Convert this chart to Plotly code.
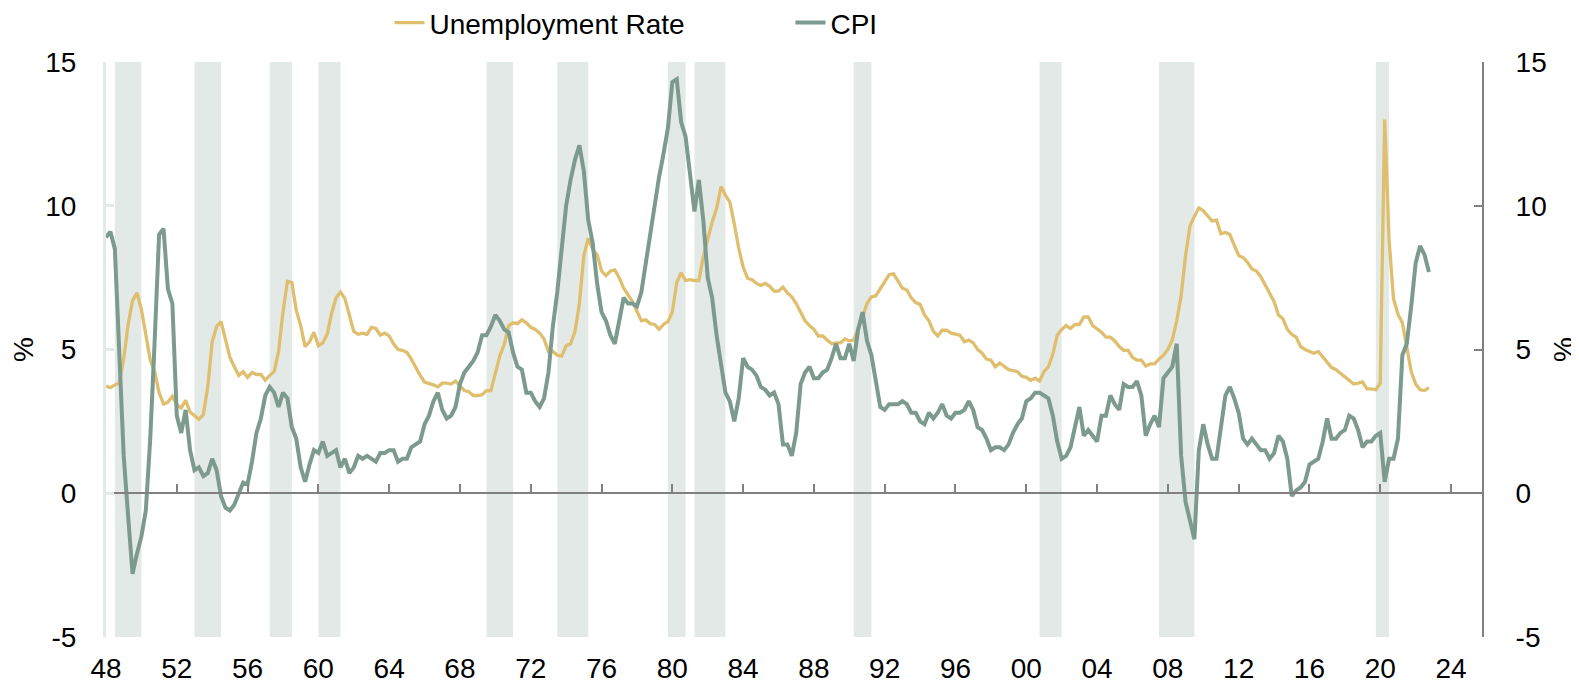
import plotly.graph_objects as go

start_year = 1948
unemployment = [
    3.73, 3.67, 3.77, 3.83, 4.67, 5.87, 6.70, 6.97, 6.40, 5.57, 4.63, 4.23,
    3.50, 3.10, 3.17, 3.37, 3.07, 2.97, 3.23, 2.83, 2.70, 2.57, 2.73, 3.70,
    5.27, 5.80, 5.97, 5.33, 4.73, 4.40, 4.10, 4.23, 4.03, 4.20, 4.13, 4.13,
    3.93, 4.10, 4.23, 4.93, 6.30, 7.37, 7.33, 6.37, 5.83, 5.10, 5.27, 5.60,
    5.13, 5.23, 5.53, 6.27, 6.80, 7.00, 6.77, 6.20, 5.63, 5.53, 5.57, 5.53,
    5.77, 5.73, 5.50, 5.57, 5.47, 5.20, 5.00, 4.97, 4.90, 4.67, 4.37, 4.10,
    3.87, 3.83, 3.77, 3.70, 3.83, 3.83, 3.80, 3.90, 3.73, 3.57, 3.53, 3.40,
    3.40, 3.43, 3.57, 3.57, 4.17, 4.77, 5.17, 5.83, 5.93, 5.90, 6.03, 5.93,
    5.77, 5.70, 5.57, 5.37, 4.93, 4.93, 4.80, 4.77, 5.13, 5.20, 5.63, 6.60,
    8.27, 8.87, 8.47, 8.30, 7.73, 7.57, 7.73, 7.77, 7.50, 7.13, 6.90, 6.67,
    6.33, 6.00, 6.03, 5.90, 5.87, 5.70, 5.87, 5.97, 6.30, 7.33, 7.67, 7.40,
    7.43, 7.40, 7.40, 8.23, 8.83, 9.43, 9.90, 10.67, 10.37, 10.13, 9.37, 8.53,
    7.87, 7.48, 7.43, 7.30, 7.23, 7.30, 7.20, 7.03, 7.03, 7.17, 6.97, 6.83,
    6.60, 6.27, 6.00, 5.83, 5.70, 5.47, 5.47, 5.33, 5.20, 5.23, 5.23, 5.37,
    5.30, 5.33, 5.70, 6.13, 6.60, 6.83, 6.87, 7.10, 7.37, 7.60, 7.63, 7.37,
    7.13, 7.07, 6.80, 6.63, 6.57, 6.20, 6.00, 5.63, 5.47, 5.67, 5.67, 5.57,
    5.53, 5.50, 5.27, 5.33, 5.23, 5.00, 4.87, 4.67, 4.63, 4.40, 4.53, 4.43,
    4.30, 4.27, 4.23, 4.07, 4.03, 3.93, 4.00, 3.90, 4.23, 4.40, 4.83, 5.50,
    5.70, 5.83, 5.73, 5.87, 5.87, 6.13, 6.13, 5.83, 5.70, 5.60, 5.43, 5.43,
    5.30, 5.10, 4.97, 4.97, 4.73, 4.63, 4.63, 4.43, 4.50, 4.50, 4.67, 4.80,
    5.00, 5.33, 6.00, 6.87, 8.27, 9.30, 9.63, 9.93, 9.83, 9.63, 9.47, 9.50,
    9.03, 9.07, 9.00, 8.63, 8.27, 8.20, 8.03, 7.80, 7.73, 7.53, 7.23, 6.93,
    6.67, 6.20, 6.07, 5.70, 5.53, 5.43, 5.10, 5.00, 4.93, 4.87, 4.93, 4.73,
    4.57, 4.37, 4.30, 4.17, 4.03, 3.93, 3.80, 3.83, 3.87, 3.63, 3.63, 3.60,
    3.83, 13.00, 8.80, 6.77, 6.23, 5.93, 5.10, 4.23, 3.80, 3.60, 3.57, 3.67,
]
cpi = [
    8.9, 9.1, 8.5, 4.7, 1.3, -0.8, -2.8, -2.1, -1.5, -0.6, 1.9, 5.3,
    9.0, 9.2, 7.1, 6.6, 2.7, 2.1, 2.9, 1.5, 0.8, 0.9, 0.6, 0.7,
    1.2, 0.8, -0.1, -0.5, -0.6, -0.4, 0.0, 0.37, 0.31, 1.1, 2.1, 2.6,
    3.4, 3.7, 3.5, 3.0, 3.5, 3.3, 2.3, 1.9, 0.9, 0.4, 1.0, 1.5,
    1.4, 1.8, 1.3, 1.4, 1.5, 0.9, 1.2, 0.7, 0.9, 1.3, 1.2, 1.3,
    1.2, 1.1, 1.4, 1.4, 1.5, 1.5, 1.1, 1.2, 1.2, 1.6, 1.7, 1.8,
    2.4, 2.7, 3.2, 3.5, 2.9, 2.6, 2.7, 3.0, 3.8, 4.2, 4.4, 4.6,
    4.9, 5.5, 5.5, 5.8, 6.2, 6.0, 5.7, 5.6, 4.9, 4.4, 4.3, 3.5,
    3.5, 3.2, 3.0, 3.3, 4.2, 5.8, 7.0, 8.6, 10.0, 10.9, 11.6, 12.1,
    11.2, 9.5, 8.7, 7.3, 6.3, 6.0, 5.5, 5.2, 6.0, 6.8, 6.6, 6.6,
    6.5, 7.0, 8.0, 9.0, 10.1, 11.0, 11.8, 12.7, 14.3, 14.4, 12.9, 12.4,
    11.1, 9.8, 10.9, 9.5, 7.5, 6.8, 5.5, 4.4, 3.5, 3.2, 2.5, 3.3,
    4.7, 4.4, 4.3, 4.1, 3.7, 3.6, 3.4, 3.5, 3.1, 1.7, 1.7, 1.3,
    2.1, 3.8, 4.2, 4.4, 4.0, 4.0, 4.2, 4.3, 4.7, 5.2, 4.7, 4.7,
    5.2, 4.6, 5.7, 6.3, 5.3, 4.8, 3.9, 3.0, 2.9, 3.1, 3.1, 3.1,
    3.2, 3.1, 2.8, 2.8, 2.5, 2.4, 2.8, 2.6, 2.8, 3.1, 2.7, 2.6,
    2.8, 2.8, 2.9, 3.2, 2.9, 2.3, 2.2, 1.9, 1.5, 1.6, 1.6, 1.5,
    1.7, 2.1, 2.4, 2.6, 3.2, 3.3, 3.5, 3.5, 3.4, 3.3, 2.7, 1.8,
    1.2, 1.3, 1.6, 2.3, 3.0, 2.0, 2.2, 2.0, 1.8, 2.7, 2.7, 3.4,
    3.1, 2.9, 3.8, 3.7, 3.7, 3.9, 3.4, 2.0, 2.4, 2.7, 2.3, 4.0,
    4.2, 4.4, 5.2, 1.3, -0.3, -1.0, -1.6, 1.5, 2.4, 1.7, 1.2, 1.2,
    2.3, 3.4, 3.7, 3.3, 2.8, 1.9, 1.7, 1.9, 1.7, 1.5, 1.5, 1.2,
    1.4, 2.0, 1.8, 1.2, -0.1, 0.1, 0.2, 0.4, 1.0, 1.1, 1.2, 1.8,
    2.6, 1.9, 1.9, 2.1, 2.2, 2.7, 2.6, 2.2, 1.6, 1.8, 1.8, 2.0,
    2.1, 0.4, 1.2, 1.2, 1.9, 4.8, 5.2, 6.5, 8.0, 8.6, 8.3, 7.7,
]
recession_start = [1948.5, 1953.0, 1957.25, 1960.0, 1969.5, 1973.5, 1979.75, 1981.25, 1990.25, 2000.75, 2007.5, 2019.75]
recession_end = [1950.0, 1954.5, 1958.5, 1961.25, 1971.0, 1975.25, 1980.75, 1983.0, 1991.25, 2002.0, 2009.5, 2020.5]
tick_years = list(range(1948, 2025, 4))
tick_labels = [str(y)[-2:] for y in tick_years]
y_ticks = [-5, 0, 5, 10, 15]
y_labels = ["-5", "0", "5", "10", "15"]

dates = [start_year + i / 4 for i in range(len(unemployment))]

C_UNEMP = "#DFBE6E"
C_CPI = "#7C9A8D"
C_SHADE = "#E3E9E6"
C_AXIS = "#808080"
FONT = "Arial, Liberation Sans, sans-serif"
FS = 28

fig = go.Figure()
fig.add_trace(go.Scatter(x=dates, y=unemployment, name="Unemployment Rate", mode="lines",
                         line=dict(color=C_UNEMP, width=3.3)))
fig.add_trace(go.Scatter(x=dates, y=cpi, name="CPI", mode="lines",
                         line=dict(color=C_CPI, width=4), yaxis="y2"))
# empty trace to register the zero-line axis
fig.add_trace(go.Scatter(x=[], y=[], xaxis="x2", yaxis="y", showlegend=False, hoverinfo="skip"))

for s, e in zip(recession_start, recession_end):
    fig.add_shape(type="rect", xref="x", yref="y", x0=s, x1=e, y0=-5, y1=15,
                  fillcolor=C_SHADE, line=dict(width=0), layer="below")

xr = [1948, 2025.75]
fig.update_layout(
    width=1571, height=677,
    margin=dict(l=98, r=97, t=54, b=48, autoexpand=False),
    paper_bgcolor="white", plot_bgcolor="white",
    font=dict(family=FONT, size=FS, color="#000000"),
    showlegend=True,
    legend=dict(orientation="h", x=0.206, xanchor="left", y=1.068, yanchor="middle",
                font=dict(size=FS), entrywidth=356, entrywidthmode="pixels",
                bgcolor="rgba(0,0,0,0)"),
    xaxis=dict(range=xr, tickvals=tick_years, ticktext=tick_labels, showline=False,
               ticks="", showgrid=False, zeroline=False, ticklabelstandoff=12,
               tickfont=dict(size=FS)),
    xaxis2=dict(range=xr, overlaying="x", anchor="free", position=0.25, showline=True,
                linecolor=C_AXIS, linewidth=2, ticks="inside", ticklen=8, tickwidth=2,
                tickcolor=C_AXIS, tickvals=tick_years, showticklabels=False,
                showgrid=False, zeroline=False),
    yaxis=dict(range=[-5, 15], tickvals=y_ticks, ticktext=y_labels, showline=True, linecolor=C_SHADE,
               linewidth=3, ticks="inside", ticklen=8, tickwidth=3, tickcolor=C_SHADE,
               showgrid=False, zeroline=False, ticklabelstandoff=21,
               title=dict(text="%", standoff=8, font=dict(size=FS))),
    yaxis2=dict(range=[-5, 15], tickvals=y_ticks, ticktext=y_labels, overlaying="y", side="right",
                showline=True, linecolor=C_AXIS, linewidth=2, ticks="inside", ticklen=8,
                tickwidth=2, tickcolor=C_AXIS, showgrid=False, zeroline=False,
                ticklabelstandoff=26, title=dict(text="%", standoff=10, font=dict(size=FS))),
)

fig.write_html("out.html")
